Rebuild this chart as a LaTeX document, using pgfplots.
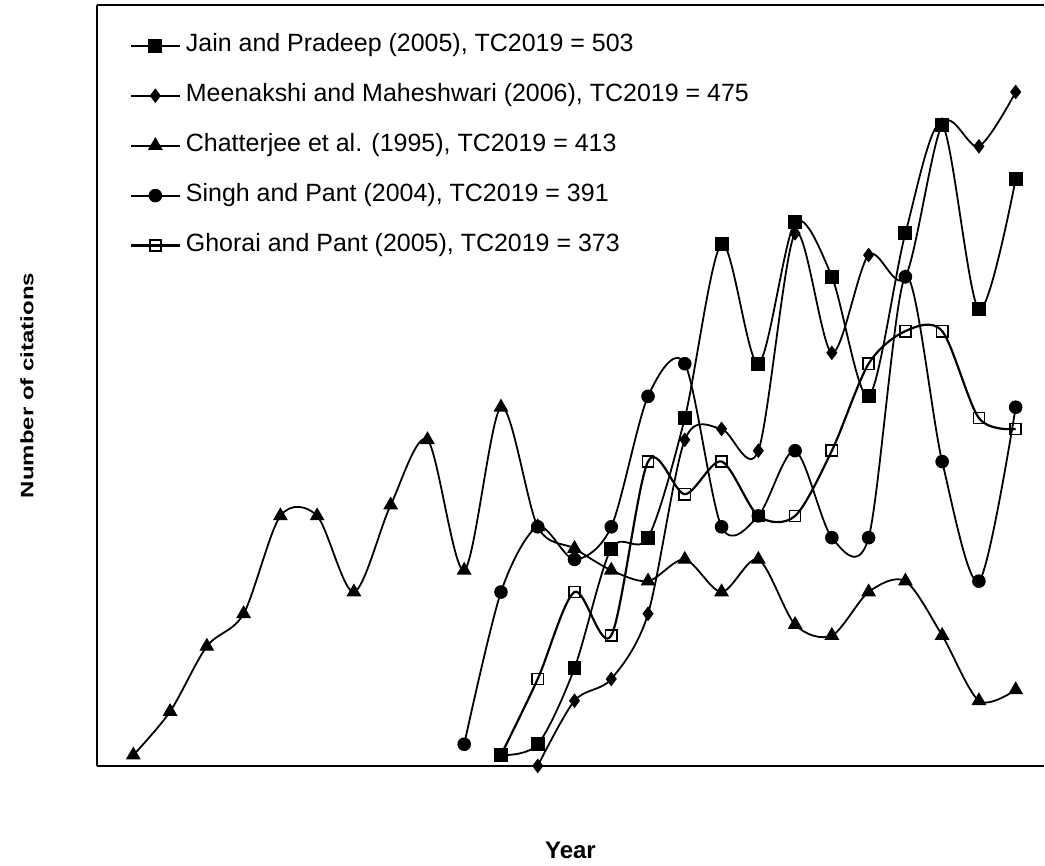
\documentclass[border=0pt]{standalone}
\usepackage{pgfplots}
\pgfplotsset{compat=1.18}
\usepackage{fontspec}
\setmainfont{Liberation Sans}
\begin{document}
\begin{tikzpicture}
\begin{axis}[
  name=ax,
  scale only axis, width=474pt, height=380.85pt,
  xmin=1994.01, xmax=2019.77, ymin=0, ymax=70,
  xtick=\empty, ytick=\empty,
  axis x line=box, axis y line=left,
  axis line style={-, line width=1pt},
  x axis line style={-}, y axis line style={-},
  clip=false,
  xlabel={Year},
  xlabel style={at={(axis description cs:0.5,-0.1216)}, anchor=base, inner sep=0pt, font=\fontsize{12}{14}\selectfont\bfseries},
  ylabel={\scalebox{1}[0.75]{Number of citations}},
  ylabel style={at={(axis description cs:-0.0738,0.5)}, anchor=center, inner sep=0pt, font=\fontsize{12}{14}\selectfont\bfseries},
  legend cell align=left,
  legend style={at={(axis description cs:0,1)}, anchor=north west, xshift=16.5pt, yshift=-14.2pt,
    draw=none, fill=none, inner sep=0pt, row sep=13pt,
    font=\fontsize{12.5}{15}\selectfont,
    nodes={inner ysep=0pt, inner xsep=2.75pt, text height=9pt, text depth=3pt}},
  legend image code/.code={\draw[mark repeat=2,mark phase=2,#1] plot coordinates {(0pt,0pt) (12pt,0pt) (24pt,0pt)};},
  every axis plot/.append style={black, smooth},
]
\addplot[black, line width=0.9pt, smooth, mark=square*, mark size=3.2pt, mark options={solid, line width=0.6pt}] coordinates {
(2005,1)(2006,2)(2007,9)(2008,20)(2009,21)(2010,32)(2011,48)(2012,37)(2013,50)(2014,45)(2015,34)(2016,49)(2017,59)(2018,42)(2019,54)};
\addlegendentry{Jain and Pradeep (2005), TC2019 = 503}
\addplot[black, line width=0.9pt, smooth, mark=diamond*, mark size=3.2pt, mark options={solid, line width=0.6pt}] coordinates {
(2006,0)(2007,6)(2008,8)(2009,14)(2010,30)(2011,31)(2012,29)(2013,49)(2014,38)(2015,47)(2016,45)(2017,59)(2018,57)(2019,62)};
\addlegendentry{Meenakshi and Maheshwari (2006), TC2019 = 475}
\addplot[black, line width=0.9pt, smooth, mark=triangle*, mark size=3.7pt, mark options={solid, line width=0.6pt}] coordinates {
(1995,1)(1996,5)(1997,11)(1998,14)(1999,23)(2000,23)(2001,16)(2002,24)(2003,30)(2004,18)(2005,33)(2006,22)(2007,20)(2008,18)(2009,17)(2010,19)(2011,16)(2012,19)(2013,13)(2014,12)(2015,16)(2016,17)(2017,12)(2018,6)(2019,7)};
\addlegendentry{Chatterjee et al. (1995), TC2019 = 413}
\addplot[black, line width=0.9pt, smooth, mark=*, mark size=3.1pt, mark options={solid, line width=0.6pt}] coordinates {
(2004,2)(2005,16)(2006,22)(2007,19)(2008,22)(2009,34)(2010,37)(2011,22)(2012,23)(2013,29)(2014,21)(2015,21)(2016,45)(2017,28)(2018,17)(2019,33)};
\addlegendentry{Singh and Pant (2004), TC2019 = 391}
\addplot[draw=black, line width=1.1pt, smooth, mark=square, mark size=2.8pt, mark options={solid, draw=black, fill=none, line width=0.8pt}] coordinates {
(2005,1)(2006,8)(2007,16)(2008,12)(2009,28)(2010,25)(2011,28)(2012,23)(2013,23)(2014,29)(2015,37)(2016,40)(2017,40)(2018,32)(2019,31)};
\addlegendentry{Ghorai and Pant (2005), TC2019 = 373}
\end{axis}
\path ([xshift=-48.5pt,yshift=-49.65pt]ax.south west) rectangle ([yshift=2.5pt]ax.north east);
\end{tikzpicture}
\end{document}
